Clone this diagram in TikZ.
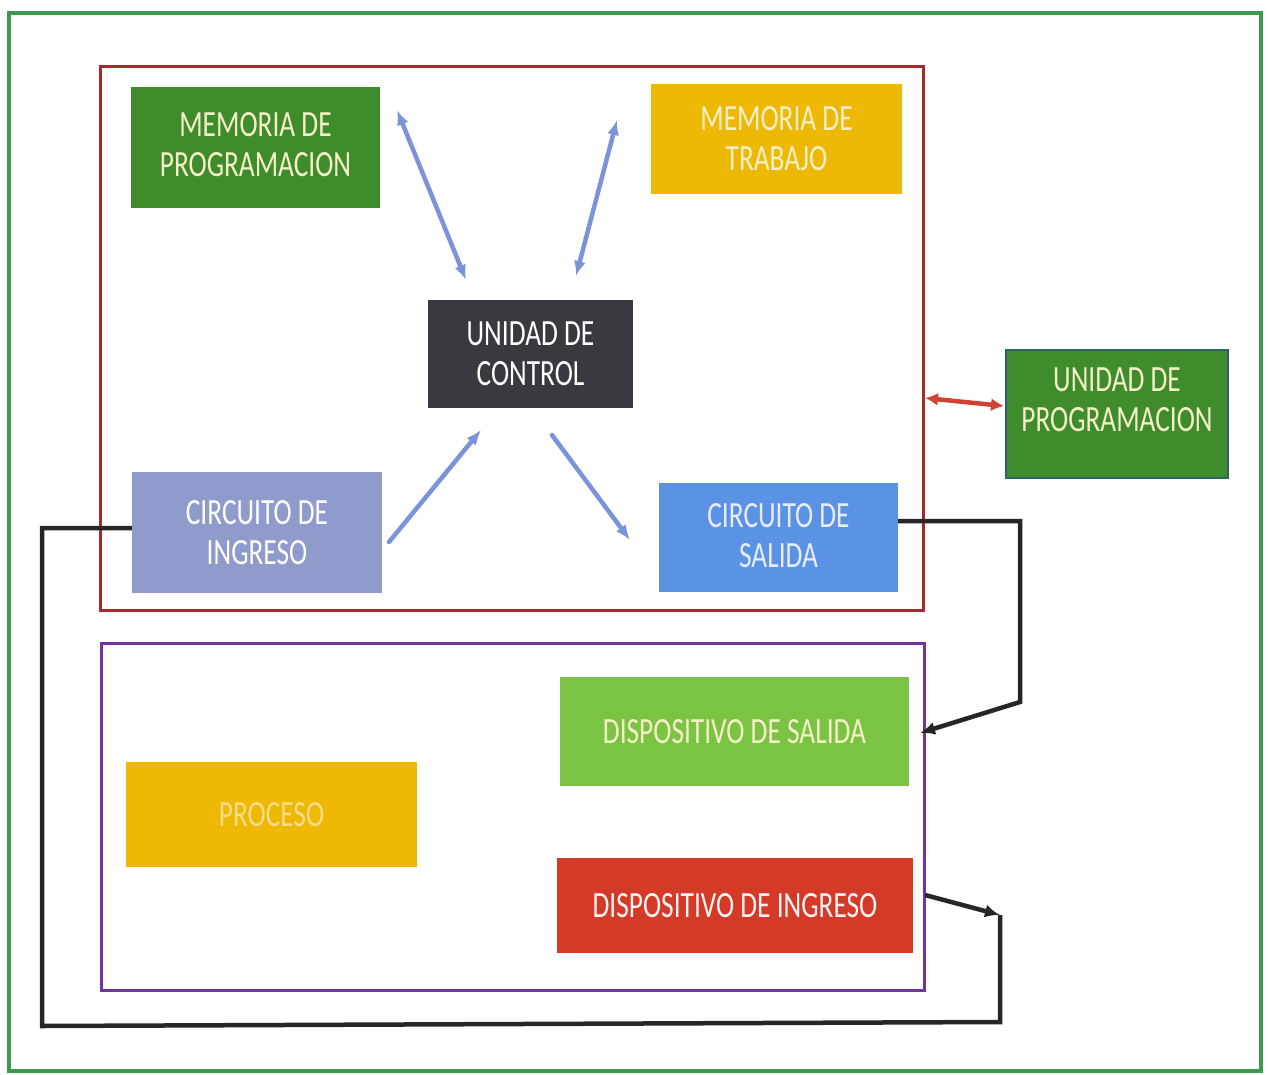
\documentclass[tikz,border=0pt]{standalone}
\usepackage{fontspec}
\setmainfont{Carlito}
\newfontfamily\labfont[FakeStretch=0.74]{Carlito}
\usetikzlibrary{arrows.meta}
\definecolor{outergreen}{HTML}{3C9A4C}
\definecolor{framered}{HTML}{A52A2A}
\definecolor{framepurple}{HTML}{7035A0}
\definecolor{boxgreen}{HTML}{3F8C2C}
\definecolor{boxyellow}{HTML}{EEB806}
\definecolor{boxdark}{HTML}{3A393F}
\definecolor{boxlav}{HTML}{8E9BCB}
\definecolor{boxblue}{HTML}{5A93E3}
\definecolor{boxlime}{HTML}{7BC443}
\definecolor{boxred}{HTML}{D43A28}
\definecolor{arrowblue}{HTML}{7B93D9}
\definecolor{arrowred}{HTML}{D24234}
\definecolor{creamtxt}{HTML}{F6F0C8}
\definecolor{paletxt}{HTML}{F6DC86}
\tikzset{
  blockbox/.style={fill=#1, draw=none, inner sep=0pt, align=center,
    font=\labfont\fontsize{37}{40}\selectfont},
  bluearrow/.style={draw=arrowblue, line width=4.5pt, line cap=round},
  blacklink/.style={draw=black!85, line width=4.5pt},
}
\begin{document}
\begin{tikzpicture}[x=1pt,y=-1pt]
\useasboundingbox (0,0) rectangle (1268,1075);
% frames
\draw[outergreen, line width=4pt] (9,13) rectangle (1261,1071);
\draw[framered, line width=3pt] (100,67) rectangle (923,610);
\draw[framepurple, line width=3pt] (101,643) rectangle (924,990);
% boxes
\node[blockbox=boxgreen, minimum width=249pt, minimum height=121pt, text=creamtxt, text depth=6pt] (memprog) at (255.5,147.5) {MEMORIA DE\\PROGRAMACION};
\node[blockbox=boxyellow, minimum width=251pt, minimum height=110pt, text=creamtxt] (memtrab) at (776.5,139) {MEMORIA DE\\TRABAJO};
\node[blockbox=boxdark, minimum width=205pt, minimum height=108pt, text=white] (ctrl) at (530.5,354) {UNIDAD DE\\CONTROL};
\node[blockbox=boxlav, minimum width=250pt, minimum height=121pt, text=white] (cing) at (257,532.5) {CIRCUITO DE\\INGRESO};
\node[blockbox=boxblue, minimum width=239pt, minimum height=109pt, text=white!92!blue, text depth=5pt] (csal) at (778.5,537.5) {CIRCUITO DE\\SALIDA};
\node[blockbox=boxgreen, draw=boxgreen!70!blue, line width=1.5pt, minimum width=222pt, minimum height=128pt, text=creamtxt, text depth=28pt] (uprog) at (1117,414) {UNIDAD DE\\PROGRAMACION};
\node[blockbox=boxlime, minimum width=349pt, minimum height=109pt, text=creamtxt] (dsal) at (734.5,731.5) {DISPOSITIVO DE SALIDA};
\node[blockbox=boxyellow, minimum width=291pt, minimum height=105pt, text=paletxt] (proc) at (271.5,814.5) {PROCESO};
\node[blockbox=boxred, minimum width=356pt, minimum height=95pt, text=white!95!red] (ding) at (735,905.5) {DISPOSITIVO DE INGRESO};
% coordinates for free arrow ends
\coordinate (a1s) at (397,110); \coordinate (a1e) at (466,280);
\coordinate (a2s) at (617,120); \coordinate (a2e) at (576,276);
\coordinate (a3s) at (389,542); \coordinate (a3e) at (481,430);
\coordinate (a4s) at (552,435); \coordinate (a4e) at (630,540);
\coordinate (redL) at (925,398); \coordinate (redR) at (1004,406);
\coordinate (k1) at (1020,521); \coordinate (k2) at (1020,702); \coordinate (k3) at (920,733);
\coordinate (m0) at (925,895); \coordinate (m1) at (1000,915); \coordinate (m2) at (1000,1022);
\coordinate (m3) at (42,1026); \coordinate (m4) at (42,528);
% blue arrows
\draw[bluearrow, {Latex[length=15pt,width=12pt]}-{Latex[length=15pt,width=12pt]}] (a1s) -- (a1e);
\draw[bluearrow, {Latex[length=15pt,width=12pt]}-{Latex[length=15pt,width=12pt]}] (a2s) -- (a2e);
\draw[bluearrow, -{Latex[length=15pt,width=12pt]}] (a3s) -- (a3e);
\draw[bluearrow, -{Latex[length=15pt,width=12pt]}] (a4s) -- (a4e);
% red double arrow
\draw[draw=arrowred, line width=4.5pt, {Latex[length=13pt,width=13pt]}-{Latex[length=13pt,width=13pt]}] (redL) -- (redR);
% black links
\draw[blacklink, -{Latex[length=15pt,width=13pt]}] (csal.east |- k1) -- (k1) -- (k2) -- (k3);
\draw[blacklink, -{Latex[length=15pt,width=13pt]}] (m0) -- (m1);
\draw[blacklink, line join=miter] (m1) -- (m2) -- (m3) -- (m4) -- (cing.west |- m4);
\end{tikzpicture}
\end{document}
